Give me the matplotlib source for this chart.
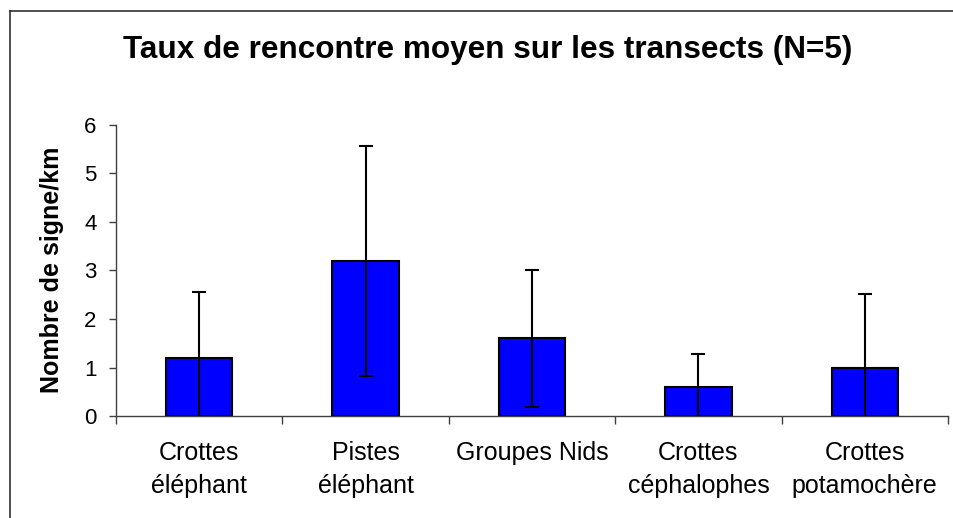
import matplotlib
matplotlib.use('Agg')
import matplotlib.pyplot as plt
from matplotlib.lines import Line2D
from matplotlib.ticker import FixedLocator

categories = ['Crottes\néléphant', 'Pistes\néléphant', 'Groupes Nids',
              'Crottes\ncéphalophes', 'Crottes\npotamochère']
means = [1.2, 3.2, 1.6, 0.6, 1.0]
errors = [1.36, 2.37, 1.42, 0.68, 1.52]
yticks = [0, 1, 2, 3, 4, 5, 6]

plt.rcParams['font.family'] = ['Liberation Sans', 'DejaVu Sans']

fig = plt.figure(figsize=(9.54, 5.18), dpi=100)
ax = fig.add_axes([0.1216, 0.1969, 0.8721, 0.5618])

x = list(range(len(categories)))
ax.bar(x, means, width=0.40, color='#0000FF', edgecolor='black', linewidth=1.5,
       yerr=errors, capsize=5, error_kw={'elinewidth': 1.5, 'capthick': 1.5, 'ecolor': 'black'})

ax.set_xlim(-0.5, len(categories) - 0.5)
ax.set_ylim(0, 6)
ax.set_yticks(yticks)
ax.tick_params(axis='y', length=5, width=1, color='#404040', pad=9, labelsize=16)

ax.set_xticks(x)
ax.set_xticklabels(categories, fontsize=18, linespacing=1.45)
ax.tick_params(axis='x', which='major', length=0, pad=18)
ax.xaxis.set_minor_locator(FixedLocator([i - 0.5 for i in range(len(categories) + 1)]))
ax.tick_params(axis='x', which='minor', length=6, width=1, color='#404040')

for side in ['top', 'right']:
    ax.spines[side].set_visible(False)
for side in ['left', 'bottom']:
    ax.spines[side].set_color('#404040')
    ax.spines[side].set_linewidth(1)

fig.text(488 / 954, 1 - 50 / 518, 'Taux de rencontre moyen sur les transects (N=5)',
         ha='center', va='center', fontsize=22.7, fontweight='bold')
fig.text(52 / 954, 1 - 270 / 518, 'Nombre de signe/km', rotation=90,
         ha='center', va='center', fontsize=18, fontweight='bold')

# chart area border (only left and top fall inside the picture)
fig.add_artist(Line2D([10.5 / 954, 10.5 / 954], [0, 1 - 11 / 518], color='#303030', lw=1.2))
fig.add_artist(Line2D([10.5 / 954, 1], [1 - 11 / 518, 1 - 11 / 518], color='#303030', lw=1.2))

fig.savefig('out.png', dpi=100)
